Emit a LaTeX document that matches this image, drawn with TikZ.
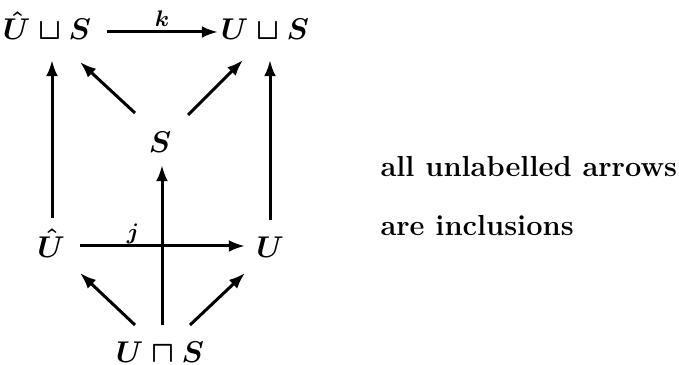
\documentclass[tikz,border=0pt]{standalone}
\usetikzlibrary{arrows.meta,calc}
\begin{document}
\begin{tikzpicture}[x=0.4pt,y=-0.4pt,
  obj/.style={inner sep=0pt,anchor=base,font=\fontsize{12.6}{15}\selectfont\boldmath},
  lbl/.style={inner sep=0pt,anchor=base,font=\fontsize{9.5}{11}\selectfont\boldmath},
  txt/.style={inner sep=0pt,anchor=base west,font=\fontsize{11.6}{14}\selectfont\bfseries},
  arr/.style={line width=1.2pt,-{Latex[length=6.5pt,width=4.8pt]}}]
\useasboundingbox (0,0) rectangle (679,365);
\node[obj] (A) at (47,40) {$\hat U\sqcup S$};
\node[obj] (B) at (265,40) {$U\sqcup S$};
\node[obj] (S) at (160,153) {$S$};
\node[obj] (C) at (51,257) {$\hat U$};
\node[obj] (D) at (270,257) {$U$};
\node[obj] (E) at (160,362) {$U\sqcap S$};
\node[lbl] (k) at (162,27) {$k$};
\node[lbl] (j) at (133,239) {$j$};
\node[txt] (t1) at (380,177) {all unlabelled arrows};
\node[txt] (t2) at (380,235) {are inclusions};
\draw[arr] ($(A.base)+(60,-8)$) -- ($(B.base)+(-47,-8)$);
\draw[arr] ($(C.base)+(1,-39)$) -- ($(A.base)+(5,20)$);
\draw[arr] ($(D.base)+(0,-37)$) -- ($(B.base)+(5,20)$);
\draw[arr] ($(S.base)+(-25,-40)$) -- ($(A.base)+(33,22)$);
\draw[arr] ($(S.base)+(28,-38)$) -- ($(B.base)+(-22,20)$);
\draw[arr] ($(C.base)+(29,-11)$) -- ($(D.base)+(-25,-11)$);
\draw[arr] ($(E.base)+(2,-37)$) -- ($(S.base)+(2,12)$);
\draw[arr] ($(E.base)+(-25,-37)$) -- ($(C.base)+(29,16)$);
\draw[arr] ($(E.base)+(30,-37)$) -- ($(D.base)+(-25,16)$);
\end{tikzpicture}
\end{document}
